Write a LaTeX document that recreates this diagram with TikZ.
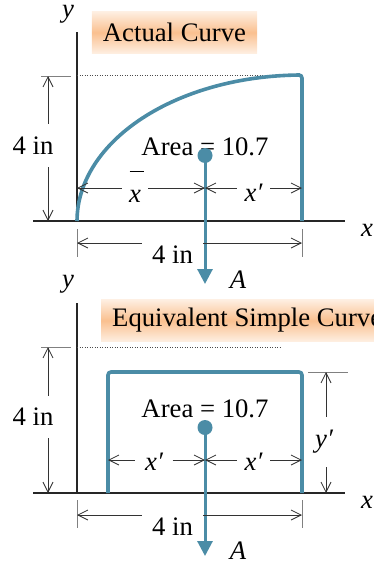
\documentclass[tikz,border=0pt]{standalone}
\usepackage{fontspec}
\setmainfont{Liberation Serif}
\usetikzlibrary{arrows.meta,calc}
\definecolor{tealc}{HTML}{4B8CA6}
\definecolor{peachm}{HTML}{FAC08F}
\definecolor{peachl}{HTML}{FEEFE2}
\newcommand\myxbar{\makebox[0pt][l]{\hspace{0.5pt}\raisebox{30.5pt}[0pt][0pt]{\rule{14pt}{1.1pt}}}x}
\begin{document}
\begin{tikzpicture}[x=1pt,y=-1pt,
  txt/.style={font=\fontsize{26.7}{30}\selectfont, inner sep=0pt},
  itx/.style={font=\fontsize{26.7}{30}\selectfont\itshape, inner sep=0pt},
  axisline/.style={line width=1.1pt, black!85},
  dimline/.style={line width=0.8pt, black!80, >={Straight Barb[length=10pt,width=10pt]}},
  extline/.style={line width=1pt, black!50},
  member/.style={line width=3.6pt, tealc, rounded corners=3pt},
  force/.style={line width=3pt, tealc, -{Triangle[length=15pt,width=15pt]}},
  dot/.style={circle, fill=tealc, minimum size=15pt, inner sep=0pt},
  titlebox/.style={font=\fontsize{26.7}{30}\selectfont, top color=peachl, bottom color=peachl, middle color=peachm, inner xsep=11pt, inner ysep=0pt, minimum height=42pt},
  dotline/.style={dotted, line width=0.5pt, black!70}
]
\useasboundingbox (0,0) rectangle (374,562);

% ===================== top panel =====================
\coordinate (Yt1) at (77,32);
\coordinate (O1) at (77,221);
\coordinate (Xl1) at (33,221);
\coordinate (Xr1) at (345,221);
\draw[axisline] (Yt1) -- (O1);
\draw[axisline] (Xl1) -- (Xr1);
\node[itx] (ylab1) at (68,14.5) {y};
\node[itx] (xlab1) at (367,230) {x};
\node[titlebox] (t1) at (174.5,32.5) {Actual Curve};

\coordinate (dt1a) at (77,75.5);
\coordinate (dt1b) at (300,75.5);
\draw[dotline] (dt1a) -- (dt1b);

\coordinate (B1) at (302,221);
\draw[member] plot[domain=180:270,samples=70] ({302+225*cos(\x)},{221+146*sin(\x)}) -- (B1);

% left height dimension
\coordinate (v1t) at (48,76);
\coordinate (v1b) at (48,221);
\coordinate (e1a) at (41,76);
\coordinate (e1b) at (71,76);
\draw[extline] (e1a) -- (e1b);
\node[txt, minimum height=43pt] (h1) at (33,145.5) {4 in};
\draw[dimline,<-] (v1t) -- (v1t |- h1.north);
\draw[dimline,->] (v1t |- h1.south) -- (v1b);

% area, centroid and resultant
\node[txt] (ar1) at (205,147) {Area = 10.7};
\node[dot] (c1) at (205,155.5) {};
\coordinate (A1) at (205,284);
\draw[force] (c1.center) -- (A1);
\node[itx] (a1) at (238,280) {A};

% x-bar / x' dimension
\coordinate (xa1) at (77,188);
\coordinate (xm1) at (205,188);
\coordinate (xr1) at (302,188);
\node[itx, minimum width=26pt] (xbar1) at (135,196) {\myxbar};
\node[itx, minimum width=33pt] (xp1) at (253.5,193) {x′};
\draw[dimline,<-] (xa1) -- (xa1 -| xbar1.west);
\draw[dimline,->] (xm1 -| xbar1.east) -- (xm1);
\draw[dimline,<-] (xm1) -- (xm1 -| xp1.west);
\draw[dimline,->] (xm1 -| xp1.east) -- (xr1);

% bottom width dimension
\coordinate (w1l) at (77,243);
\coordinate (w1r) at (302,243);
\coordinate (el1a) at (77,229);
\coordinate (el1b) at (77,257);
\coordinate (er1a) at (302,229);
\coordinate (er1b) at (302,257);
\draw[extline] (el1a) -- (el1b);
\draw[extline] (er1a) -- (er1b);
\node[txt, minimum width=61pt] (w1) at (172.5,255) {4 in};
\draw[dimline,<-] (w1l) -- (w1l -| w1.west);
\draw[dimline,->] (w1r -| w1.east) -- (w1r);

% ===================== bottom panel =====================
\coordinate (Yt2) at (77,303);
\coordinate (O2) at (77,493);
\coordinate (Xl2) at (33,493);
\coordinate (Xr2) at (345,493);
\draw[axisline] (Yt2) -- (O2);
\draw[axisline] (Xl2) -- (Xr2);
\node[itx] (ylab2) at (68,284) {y};
\node[itx] (xlab2) at (367,502) {x};
\node[titlebox, anchor=west] (t2) at (101,320.5) {Equivalent Simple Curve};

\coordinate (dt2a) at (77,347);
\coordinate (dt2b) at (281,347);
\draw[dotline] (dt2a) -- (dt2b);

% left height dimension
\coordinate (v2t) at (48,347);
\coordinate (v2b) at (48,493);
\coordinate (e2a) at (41,347);
\coordinate (e2b) at (71,347);
\draw[extline] (e2a) -- (e2b);
\node[txt, minimum height=42pt] (h2) at (33,417) {4 in};
\draw[dimline,<-] (v2t) -- (v2t |- h2.north);
\draw[dimline,->] (v2t |- h2.south) -- (v2b);

% equivalent rectangle
\coordinate (r1) at (108,493);
\coordinate (r2) at (108,372);
\coordinate (r3) at (302,372);
\coordinate (r4) at (302,493);
\draw[member] (r1) -- (r2) -- (r3) -- (r4);

% area, centroid and resultant
\node[txt] (ar2) at (205,409) {Area = 10.7};
\node[dot] (c2) at (205,427.5) {};
\coordinate (A2) at (205,556);
\draw[force] (c2.center) -- (A2);
\node[itx] (a2) at (238,550.5) {A};

% x' / x' dimension
\coordinate (xa2) at (108,460);
\coordinate (xm2) at (205,460);
\coordinate (xr2) at (302,460);
\node[itx, minimum width=37pt] (xp2a) at (154,462) {x′};
\node[itx, minimum width=33pt] (xp2b) at (253.5,462) {x′};
\draw[dimline,<-] (xa2) -- (xa2 -| xp2a.west);
\draw[dimline,->] (xm2 -| xp2a.east) -- (xm2);
\draw[dimline,<-] (xm2) -- (xm2 -| xp2b.west);
\draw[dimline,->] (xm2 -| xp2b.east) -- (xr2);

% y' dimension
\coordinate (yt2) at (326,372);
\coordinate (yb2) at (326,493);
\coordinate (ey2a) at (308,372);
\coordinate (ey2b) at (348,372);
\draw[extline] (ey2a) -- (ey2b);
\node[itx, minimum height=50pt] (yp2) at (324,442) {y′};
\draw[dimline,<-] (yt2) -- (yt2 |- yp2.north);
\draw[dimline,->] (yt2 |- yp2.south) -- (yb2);

% bottom width dimension
\coordinate (w2l) at (77,515);
\coordinate (w2r) at (302,515);
\coordinate (el2a) at (77,500);
\coordinate (el2b) at (77,528);
\coordinate (er2a) at (302,500);
\coordinate (er2b) at (302,528);
\draw[extline] (el2a) -- (el2b);
\draw[extline] (er2a) -- (er2b);
\node[txt, minimum width=61pt] (w2) at (172.5,527) {4 in};
\draw[dimline,<-] (w2l) -- (w2l -| w2.west);
\draw[dimline,->] (w2r -| w2.east) -- (w2r);
\end{tikzpicture}
\end{document}
